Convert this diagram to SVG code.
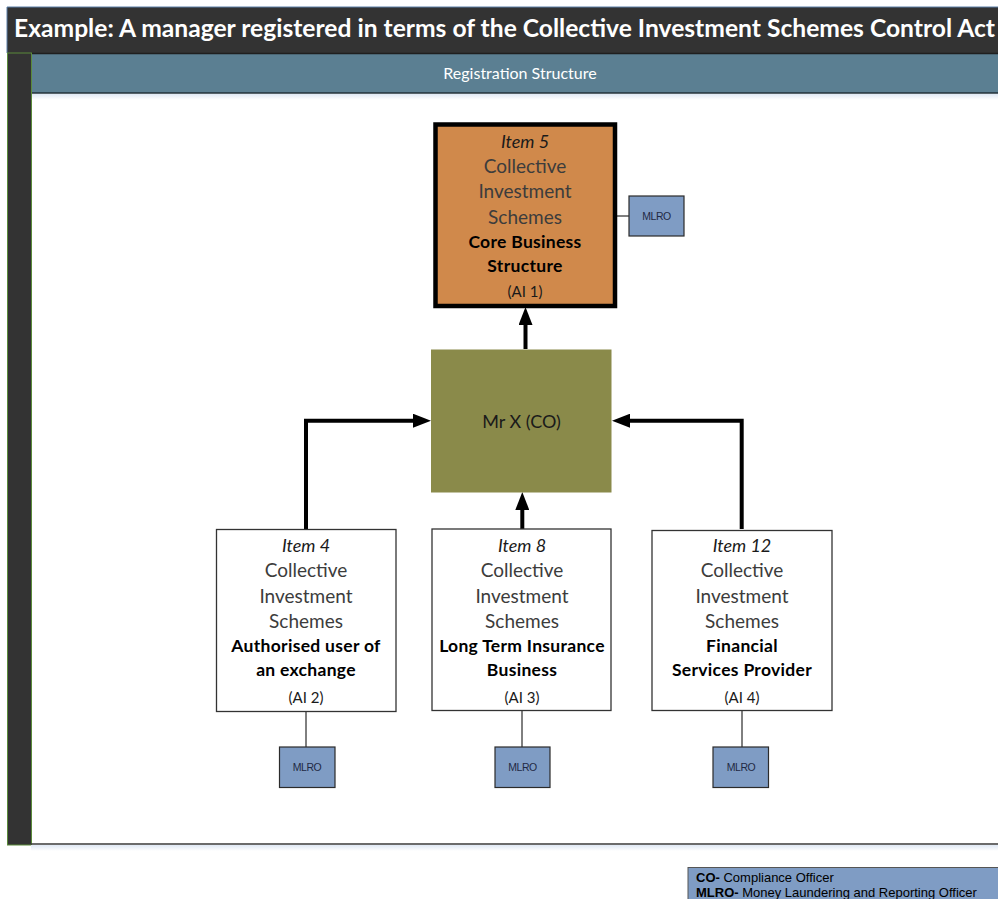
<svg xmlns="http://www.w3.org/2000/svg" width="998" height="899" viewBox="0 0 998 899">
  <defs>
    <marker id="ah" markerUnits="userSpaceOnUse" markerWidth="18" markerHeight="14" refX="0" refY="7" orient="auto">
      <path d="M0,0 L18,7 L0,14 z" fill="#000"/>
    </marker>
    <linearGradient id="shadowV" x1="0" y1="0" x2="0" y2="1">
      <stop offset="0" stop-color="#dfe8f4"/>
      <stop offset="1" stop-color="#ffffff"/>
    </linearGradient>
  </defs>
  <style>
    .t { font-family: "Lato", "Open Sans", sans-serif; text-anchor: middle; }
    .it { font-style: italic; font-size: 18px; fill: #1a1a1a; }
    .rg { font-size: 19px; fill: #3c3c3c; }
    .bd { font-weight: bold; font-size: 17.5px; fill: #000; letter-spacing: 0.3px; }
    .ai { font-size: 15px; fill: #1a1a1a; }
    .box { fill: #ffffff; stroke: #333333; stroke-width: 1.3; }
    .mlro { fill: #7f9cc4; stroke: #2b2b2b; stroke-width: 1.2; }
    .mlrot { font-family: "Liberation Sans", Arial, sans-serif; font-size: 10.5px; fill: #1f2a44; text-anchor: middle; letter-spacing: -0.5px; }
    .thin { stroke: #000; stroke-width: 1; fill: none; }
    .thick { stroke: #000; stroke-width: 4; fill: none; }
    .lg { font-family: "Liberation Sans", Arial, sans-serif; font-size: 13px; fill: #000; }
  </style>

  <rect x="0" y="0" width="998" height="899" fill="#ffffff"/>

  <g id="frame">
    <rect x="7" y="7" width="991" height="46" fill="#333333"/>
    <line x1="7" y1="7" x2="998" y2="7" stroke="#5b7fa8" stroke-width="1"/>
    <line x1="7" y1="7" x2="7" y2="53" stroke="#5b7fa8" stroke-width="1"/>
    <text x="14" y="37" font-family="Lato, 'Open Sans', sans-serif" font-weight="bold" font-size="24.5" fill="#ffffff" textLength="981" lengthAdjust="spacingAndGlyphs">Example: A manager registered in terms of the Collective Investment Schemes Control Act</text>
    <rect x="31" y="53" width="967" height="40" fill="#5b7f92"/>
    <line x1="31" y1="53.5" x2="998" y2="53.5" stroke="#1f1f1f" stroke-width="1.5"/>
    <line x1="31" y1="93" x2="998" y2="93" stroke="#1f2f38" stroke-width="1.5"/>
    <rect x="31" y="94" width="967" height="6" fill="url(#shadowV)"/>
    <text x="520" y="79" font-family="Lato, 'Open Sans', sans-serif" font-size="16" fill="#ffffff" text-anchor="middle">Registration Structure</text>
    <rect x="7.5" y="53" width="24" height="792" fill="#333333" stroke="#5a8a3a" stroke-width="1"/>
    <rect x="31" y="845" width="967" height="6" fill="url(#shadowV)"/>
    <line x1="31" y1="844" x2="998" y2="844" stroke="#3a3a3a" stroke-width="1.5"/>
  </g>

  <g id="connectors">
    <line class="thin" x1="615" y1="216" x2="629" y2="216"/>
    <line class="thin" x1="306" y1="711" x2="306" y2="747"/>
    <line class="thin" x1="522" y1="711" x2="522" y2="747"/>
    <line class="thin" x1="742" y1="711" x2="742" y2="747"/>
    <path class="thick" d="M525.5,349 L525.5,325" marker-end="url(#ah)"/>
    <path class="thick" d="M522.3,529 L522.3,510" marker-end="url(#ah)"/>
    <path class="thick" d="M306,529 L306,420.7 L413,420.7" marker-end="url(#ah)"/>
    <path class="thick" d="M741.7,529 L741.7,420.7 L630,420.7" marker-end="url(#ah)"/>
  </g>

  <g id="item5">
    <rect x="435.5" y="124.5" width="179.5" height="181.5" fill="#d0894b" stroke="#000" stroke-width="4.5"/>
    <text class="t it" x="525" y="148.3">Item 5</text>
    <text class="t rg" x="525" y="173.3">Collective</text>
    <text class="t rg" x="525" y="198.3">Investment</text>
    <text class="t rg" x="525" y="224">Schemes</text>
    <text class="t bd" x="525" y="247.7">Core Business</text>
    <text class="t bd" x="525" y="271.7">Structure</text>
    <text class="t ai" x="525" y="296.7">(AI 1)</text>
  </g>

  <g id="mlro-item5">
    <rect class="mlro" x="629" y="196" width="55" height="40"/>
    <text class="mlrot" x="656.5" y="219.5">MLRO</text>
  </g>

  <g id="mrx">
    <rect x="431" y="349.5" width="180.5" height="143" fill="#8a8a4a"/>
    <text class="t" x="521.5" y="427.5" font-size="18" fill="#1a1a1a">Mr X (CO)</text>
  </g>

  <g id="item4">
    <rect class="box" x="216.5" y="529.5" width="179.5" height="182"/>
    <text class="t it" x="306" y="551.7">Item 4</text>
    <text class="t rg" x="306" y="576.7">Collective</text>
    <text class="t rg" x="306" y="602.7">Investment</text>
    <text class="t rg" x="306" y="628.3">Schemes</text>
    <text class="t bd" x="306" y="652.3">Authorised user of</text>
    <text class="t bd" x="306" y="676">an exchange</text>
    <text class="t ai" x="306" y="702.7">(AI 2)</text>
  </g>

  <g id="item8">
    <rect class="box" x="432" y="529" width="179" height="181.5"/>
    <text class="t it" x="522" y="551.7">Item 8</text>
    <text class="t rg" x="522" y="576.7">Collective</text>
    <text class="t rg" x="522" y="602.7">Investment</text>
    <text class="t rg" x="522" y="628.3">Schemes</text>
    <text class="t bd" x="522" y="652.3">Long Term Insurance</text>
    <text class="t bd" x="522" y="676">Business</text>
    <text class="t ai" x="522" y="702.7">(AI 3)</text>
  </g>

  <g id="item12">
    <rect class="box" x="652" y="530.5" width="180" height="180"/>
    <text class="t it" x="742" y="551.7">Item 12</text>
    <text class="t rg" x="742" y="576.7">Collective</text>
    <text class="t rg" x="742" y="602.7">Investment</text>
    <text class="t rg" x="742" y="628.3">Schemes</text>
    <text class="t bd" x="742" y="652.3">Financial</text>
    <text class="t bd" x="742" y="676">Services Provider</text>
    <text class="t ai" x="742" y="702.7">(AI 4)</text>
  </g>

  <g id="mlro-item4">
    <rect class="mlro" x="279.5" y="747" width="55.5" height="40.5"/>
    <text class="mlrot" x="307" y="771">MLRO</text>
  </g>
  <g id="mlro-item8">
    <rect class="mlro" x="495" y="747" width="55" height="40.5"/>
    <text class="mlrot" x="522.5" y="771">MLRO</text>
  </g>
  <g id="mlro-item12">
    <rect class="mlro" x="713" y="747" width="55.5" height="40.5"/>
    <text class="mlrot" x="741" y="771">MLRO</text>
  </g>

  <g id="legend">
    <rect x="688" y="867.5" width="312" height="33" fill="#7f9cc4" stroke="#555" stroke-width="1"/>
    <text class="lg" x="696" y="881.5"><tspan font-weight="bold">CO-</tspan> Compliance Officer</text>
    <text class="lg" x="696" y="896.5"><tspan font-weight="bold">MLRO-</tspan> Money Laundering and Reporting Officer</text>
  </g>
</svg>
